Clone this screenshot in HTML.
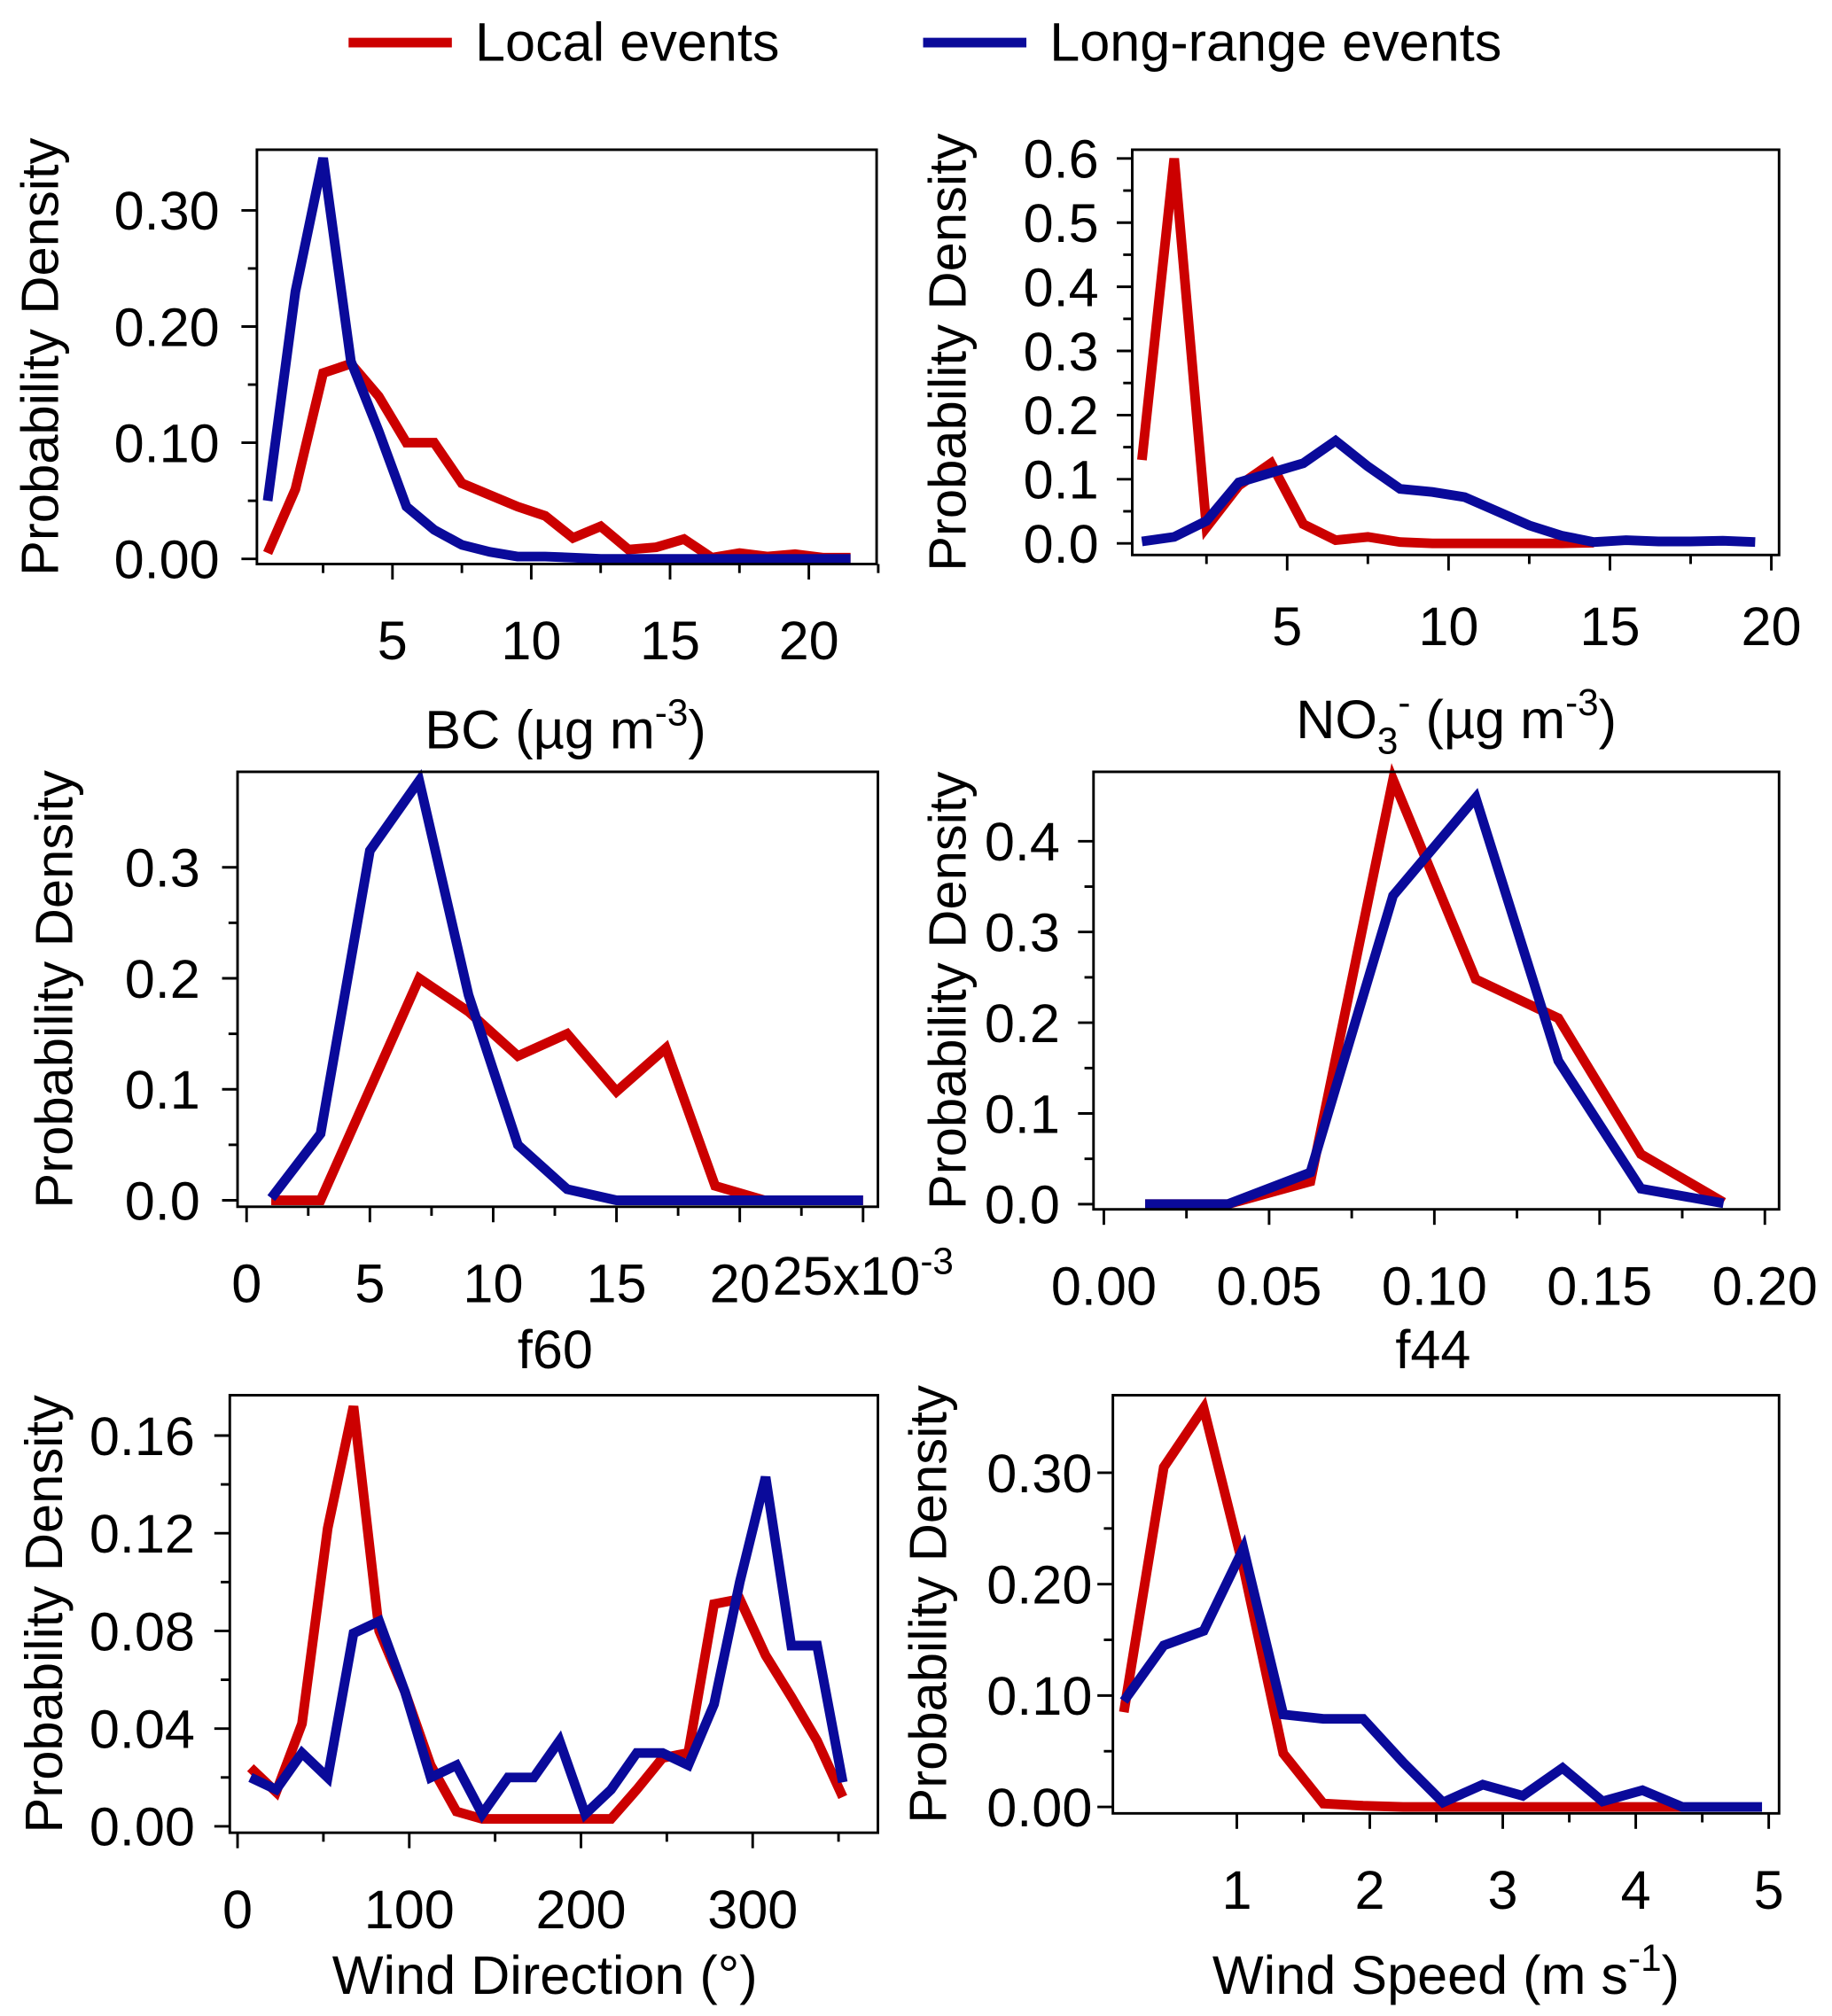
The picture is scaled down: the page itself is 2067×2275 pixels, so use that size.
<!DOCTYPE html>
<html><head><meta charset="utf-8">
<style>
html,body{margin:0;padding:0;background:#fff;}
svg{display:block;font-family:"Liberation Sans",Arial,sans-serif;}
</style></head>
<body>
<svg id="fig" width="2067" height="2275" viewBox="0 0 1419 1562" preserveAspectRatio="none" xmlns="http://www.w3.org/2000/svg">
<g>
<line x1="270" y1="33" x2="350" y2="33" stroke="#cc0000" stroke-width="7.5"/>
<text x="368" y="47" font-size="42">Local events</text>
<line x1="715" y1="33" x2="795" y2="33" stroke="#0a0a9a" stroke-width="7.5"/>
<text x="813" y="47" font-size="42">Long-range events</text>
</g>
</svg>
<script>
// ---- data ----
const bcX=[0.5,1.5,2.5,3.5,4.5,5.5,6.5,7.5,8.5,9.5,10.5,11.5,12.5,13.5,14.5,15.5,16.5,17.5,18.5,19.5,20.5,21.5];
const bcLocal=[0.005,0.06,0.16,0.168,0.14,0.10,0.10,0.065,0.055,0.045,0.037,0.018,0.028,0.008,0.01,0.017,0.001,0.005,0.002,0.004,0.001,0.001];
const bcLong=[0.05,0.23,0.345,0.17,0.11,0.045,0.025,0.012,0.006,0.002,0.002,0.001,0,0,0,0,0,0,0,0,0,0];
const no3X=[0.5,1.5,2.5,3.5,4.5,5.5,6.5,7.5,8.5,9.5,10.5,11.5,12.5,13.5,14.5,15.5,16.5,17.5,18.5,19.5];
const no3Local=[0.13,0.60,0.025,0.09,0.125,0.03,0.005,0.01,0.002,0,0,0,0,0,0.001];
const no3Long=[0.003,0.01,0.035,0.095,0.11,0.125,0.16,0.12,0.085,0.08,0.072,0.05,0.028,0.012,0.002,0.005,0.003,0.003,0.004,0.002];
const f60X=[1,3,5,7,9,11,13,15,17,19,21,23,25];
const f60Local=[0,0,0.10,0.20,0.17,0.13,0.15,0.098,0.137,0.013,0,0,0];
const f60Long=[0.002,0.06,0.315,0.378,0.185,0.05,0.01,0,0,0,0,0,0];
const f44X=[0.0125,0.0375,0.0625,0.0875,0.1125,0.1375,0.1625,0.1875];
const f44Local=[0,0,0.025,0.468,0.248,0.205,0.055,0.002];
const f44Long=[0,0,0.035,0.34,0.448,0.158,0.017,0.001];
const wdX=[7.5,22.5,37.5,52.5,67.5,82.5,97.5,112.5,127.5,142.5,157.5,172.5,187.5,202.5,217.5,232.5,247.5,262.5,277.5,292.5,307.5,322.5,337.5,352.5];
const wdLocal=[0.024,0.014,0.042,0.122,0.172,0.08,0.055,0.025,0.006,0.003,0.003,0.003,0.003,0.003,0.003,0.015,0.028,0.03,0.091,0.093,0.07,0.053,0.035,0.012];
const wdLong=[0.02,0.015,0.03,0.02,0.079,0.084,0.055,0.02,0.025,0.005,0.02,0.02,0.035,0.005,0.015,0.03,0.03,0.025,0.05,0.1,0.143,0.074,0.074,0.018];
const wsX=[0.15,0.45,0.75,1.05,1.35,1.65,1.95,2.25,2.55,2.85,3.15,3.45,3.75,4.05,4.35,4.65,4.95];
const wsLocal=[0.085,0.305,0.358,0.215,0.048,0.003,0.001,0,0,0,0,0,0,0,0];
const wsLong=[0.095,0.145,0.158,0.232,0.083,0.079,0.079,0.04,0.004,0.02,0.01,0.035,0.005,0.015,0,0,0];
const bcYTicks=["0.00","0.10","0.20","0.30"], bcXTicks=["5","10","15","20"];
const no3YTicks=["0.0","0.1","0.2","0.3","0.4","0.5","0.6"], no3XTicks=["5","10","15","20"];
const f60YTicks=["0.0","0.1","0.2","0.3"], f60XTicks=["0","5","10","15","20","25"];
const f44YTicks=["0.0","0.1","0.2","0.3","0.4"], f44XTicks=["0.00","0.05","0.10","0.15","0.20"];
const wdYTicks=["0.00","0.04","0.08","0.12","0.16"], wdXTicks=["0","100","200","300"];
const wsYTicks=["0.00","0.10","0.20","0.30"], wsXTicks=["1","2","3","4","5"];

const NS="http://www.w3.org/2000/svg";
const svg=document.getElementById('fig');
const FS=42;
function mk(tag,attrs,parent){const e=document.createElementNS(NS,tag);for(const k in attrs)e.setAttribute(k,attrs[k]);(parent||svg).appendChild(e);return e;}

function panel(p){
  const g=mk('g',{});
  
  
  const sx=v=>p.x0+(v-p.xv0)*p.xs;
  const sy=v=>p.y0-(v-p.yv0)*p.ys;
  [[p.local,'#cc0000','local'],[p.long,'#0a0a9a','longrange']].forEach(([ys,c,n])=>{
    const pts=ys.map((v,i)=>sx(p.xd[i]).toFixed(1)+','+sy(v).toFixed(1)).join(' ');
    const pl=mk('polyline',{points:pts,fill:'none',stroke:c,'stroke-width':7.5,'stroke-linejoin':'miter'},g);
    
    
  });
  const box=mk('rect',{x:p.L,y:p.T,width:p.R-p.L,height:p.B-p.T,fill:'none',stroke:'#000','stroke-width':2},g);
  
  
  p.yt.forEach(t=>{const v=parseFloat(t);const y=sy(v);
    mk('line',{x1:p.L-12,x2:p.L,y1:y,y2:y,stroke:'#000','stroke-width':2},g);
    const tx=mk('text',{x:p.ylx,y:y+15,'font-size':FS,'text-anchor':'end'},g);tx.textContent=t;
    
    
  });
  for(let i=0;i<p.yt.length-1;i++){const v=(parseFloat(p.yt[i])+parseFloat(p.yt[i+1]))/2;const y=sy(v);
    mk('line',{x1:p.L-7,x2:p.L,y1:y,y2:y,stroke:'#000','stroke-width':2},g);}
  p.xt.forEach((t,i)=>{const v=parseFloat(t);const x=sx(v);
    mk('line',{x1:x,x2:x,y1:p.B,y2:p.B+12,stroke:'#000','stroke-width':2},g);
    const tx=mk('text',{x:x,y:p.B+p.xly,'font-size':FS,'text-anchor':'middle'},g);
    tx.textContent=t;
    if(p.xlast&&i===p.xt.length-1){tx.innerHTML='25x10<tspan dy="-16" font-size="29">-3</tspan>';tx.setAttribute('x',x);tx.setAttribute('y',p.B+p.xly-6);}
    
    
  });
  p.xm.forEach(v=>{const x=sx(v);mk('line',{x1:x,x2:x,y1:p.B,y2:p.B+7,stroke:'#000','stroke-width':2},g);});
  const yt=mk('text',{x:0,y:0,'font-size':41,'text-anchor':'middle',transform:`translate(${p.ytx},${(p.T+p.B)/2}) rotate(-90)`},g);
  yt.textContent='Probability Density';
  
  
  const xt=mk('text',{x:p.xtx,y:p.xty,'font-size':FS,'text-anchor':'middle'},g);
  xt.innerHTML=p.xtitle;
  
  
}
function rng(a,b,s){const r=[];for(let v=a;v<=b+1e-9;v+=s)r.push(v);return r;}

panel({name:'bc-panel',L:199,R:679,T:116,B:437,x0:196.5,xv0:0,xs:21.5,y0:433,yv0:0,ys:900,
  xd:bcX,local:bcLocal,long:bcLong,yt:bcYTicks,xt:bcXTicks,xm:rng(2.5,22.5,5),ylx:170,xly:74,ytx:45,
  xtitle:'BC (µg m<tspan dy="-18" font-size="29">-3</tspan><tspan dy="18">)</tspan>',xtx:438,xty:580});
panel({name:'no3-panel',L:877,R:1378,T:116,B:430,x0:872,xv0:0,xs:25,y0:421,yv0:0,ys:497,
  xd:no3X,local:no3Local,long:no3Long,yt:no3YTicks,xt:no3XTicks,xm:rng(2.5,17.5,5),ylx:851,xly:70,ytx:748,
  xtitle:'NO<tspan dy="12" font-size="29">3</tspan><tspan dy="-30" font-size="29">-</tspan><tspan dy="18"> (µg m</tspan><tspan dy="-18" font-size="29">-3</tspan><tspan dy="18">)</tspan>',xtx:1128,xty:572});
panel({name:'f60-panel',L:184,R:680,T:598,B:935,x0:191,xv0:0,xs:19.1,y0:930,yv0:0,ys:860,
  xd:f60X,local:f60Local,long:f60Long,yt:f60YTicks,xt:f60XTicks,xm:rng(2.5,22.5,5),ylx:155,xly:74,ytx:56,xlast:true,
  xtitle:'f60',xtx:430,xty:1060});
panel({name:'f44-panel',L:847,R:1378,T:598,B:937,x0:855,xv0:0,xs:2560,y0:933,yv0:0,ys:703,
  xd:f44X,local:f44Local,long:f44Long,yt:f44YTicks,xt:f44XTicks,xm:rng(0.025,0.175,0.05),ylx:821,xly:74,ytx:748,
  xtitle:'f44',xtx:1110,xty:1060});
panel({name:'wind-direction-panel',L:178,R:680,T:1081,B:1420,x0:184,xv0:0,xs:1.33,y0:1415,yv0:0,ys:1892,
  xd:wdX,local:wdLocal,long:wdLong,yt:wdYTicks,xt:wdXTicks,xm:rng(50,350,100),ylx:151,xly:74,ytx:48,
  xtitle:'Wind Direction (°)',xtx:422,xty:1545});
panel({name:'wind-speed-panel',L:862,R:1378,T:1081,B:1405,x0:855,xv0:0,xs:103,y0:1400,yv0:0,ys:863,
  xd:wsX,local:wsLocal,long:wsLong,yt:wsYTicks,xt:wsXTicks,xm:rng(1.5,4.5,1),ylx:846,xly:74,ytx:733,
  xtitle:'Wind Speed (m s<tspan dy="-18" font-size="29">-1</tspan><tspan dy="18">)</tspan>',xtx:1120,xty:1545});
</script>
</body></html>
